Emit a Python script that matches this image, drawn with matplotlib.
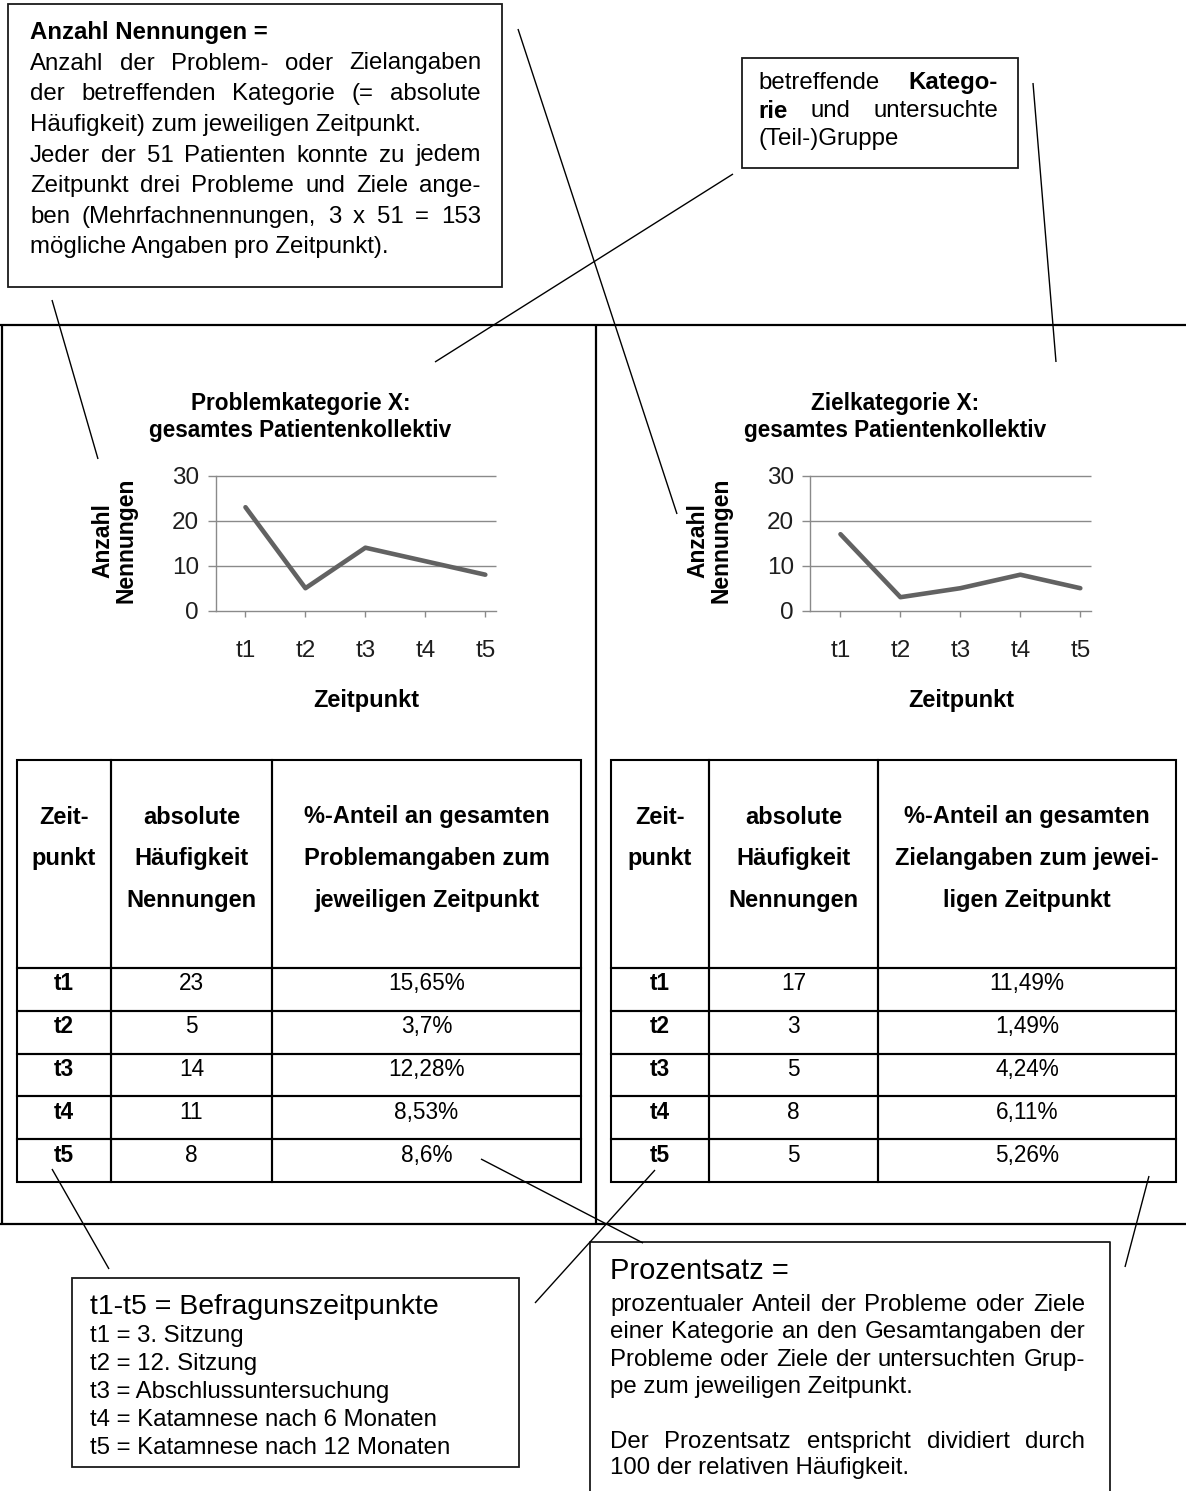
import matplotlib
matplotlib.use("Agg")
import matplotlib.pyplot as plt
from matplotlib.font_manager import FontProperties
from matplotlib.patches import Rectangle
from matplotlib.transforms import Affine2D

FONT = ['Liberation Sans', 'DejaVu Sans']
plt.rcParams['font.family'] = FONT

# ---------------- data ----------------
zeitpunkte = ["t1", "t2", "t3", "t4", "t5"]
problem_nennungen = [23, 5, 14, 11, 8]
problem_prozent = ["15,65%", "3,7%", "12,28%", "8,53%", "8,6%"]
ziel_nennungen = [17, 3, 5, 8, 5]
ziel_prozent = ["11,49%", "1,49%", "4,24%", "6,11%", "5,26%"]
y_ticks = [0, 10, 20, 30]

problem_header = ["Zeit-\npunkt\n", "absolute\nHäufigkeit\nNennungen",
                  "%-Anteil an gesamten\nProblemangaben zum\njeweiligen Zeitpunkt"]
ziel_header = ["Zeit-\npunkt\n", "absolute\nHäufigkeit\nNennungen",
               "%-Anteil an gesamten\nZielangaben zum jewei-\nligen Zeitpunkt"]

# ---------------- figure / overlay in pixel units ----------------
W, H, DPI = 1186, 1491, 100
fig = plt.figure(figsize=(W / DPI, H / DPI), dpi=DPI, facecolor='white')
renderer = fig.canvas.get_renderer()

ov = fig.add_axes([0, 0, 1, 1])
ov.set_xlim(0, W)
ov.set_ylim(H, 0)
ov.axis('off')
ov.set_zorder(10)

BODY = 17.3
GRID = '#8a8a8a'


def fp(size, weight='normal'):
    return FontProperties(family=FONT, size=size, weight=weight)


def text_width(s, size, weight='normal'):
    w, h, d = renderer.get_text_width_height_descent(s, fp(size, weight), ismath=False)
    return w


def spacing(px, size, weight='normal'):
    # linespacing factor giving a baseline-to-baseline distance of px pixels
    w, h, d = renderer.get_text_width_height_descent("lp", fp(size, weight), ismath=False)
    return (px - d) / (h - d)


def draw_line(x0, x1, y, line, size, justify):
    words = []
    bold = False
    for tok in line.split(' '):
        if tok.startswith('**'):
            bold = True
            tok = tok[2:]
        end = tok.endswith('**')
        if end:
            tok = tok[:-2]
        words.append((tok, 'bold' if bold else 'normal'))
        if end:
            bold = False
    if not justify:
        wt = words[0][1]
        ov.text(x0, y, ' '.join(w for w, _ in words), fontproperties=fp(size, wt),
                ha='left', va='center')
        return
    widths = [text_width(w, size, wt) for w, wt in words]
    gap = (x1 - x0 - sum(widths)) / (len(words) - 1)
    x = x0
    for (w, wt), wd in zip(words, widths):
        ov.text(x, y, w, fontproperties=fp(size, wt), ha='left', va='center')
        x += wd + gap


def draw_paragraph(x0, x1, ys, lines, size):
    for y, (line, just) in zip(ys, lines):
        draw_line(x0, x1, y, line, size, just)


def box(x0, y0, x1, y1):
    ov.add_patch(Rectangle((x0, y0), x1 - x0, y1 - y0, fill=False, lw=1.3, ec='#1a1a1a'))


def seg(p0, p1, lw=1.0):
    ov.plot([p0[0], p1[0]], [p0[1], p1[1]], color='black', lw=lw, solid_capstyle='butt')


# ---------------- panel frame ----------------
seg((0, 324.5), (W, 324.5), 1.6)
seg((0, 1224), (W, 1224), 1.6)
seg((2, 324.5), (2, 1224), 1.6)
seg((596, 324.5), (596, 1224), 1.6)

# ---------------- text boxes ----------------
box(8, 4, 502, 287)
draw_paragraph(30, 481, [33, 63.5, 94, 125, 155.5, 186, 217, 247.5], [
    ("**Anzahl Nennungen =**", False),
    ("Anzahl der Problem- oder Zielangaben", True),
    ("der betreffenden Kategorie (= absolute", True),
    ("Häufigkeit) zum jeweiligen Zeitpunkt.", False),
    ("Jeder der 51 Patienten konnte zu jedem", True),
    ("Zeitpunkt drei Probleme und Ziele ange-", True),
    ("ben (Mehrfachnennungen, 3 x 51 = 153", True),
    ("mögliche Angaben pro Zeitpunkt).", False),
], BODY)

box(742, 58, 1018, 168)
draw_paragraph(758, 998, [83, 111, 139], [
    ("betreffende **Katego-**", True),
    ("**rie** und untersuchte", True),
    ("(Teil-)Gruppe", False),
], BODY)

box(72, 1278, 519, 1467)
draw_line(90, 500, 1307, "t1-t5 = Befragunszeitpunkte", 20.5, False)
draw_paragraph(90, 500, [1336, 1364, 1392, 1420, 1448], [
    ("t1 = 3. Sitzung", False),
    ("t2 = 12. Sitzung", False),
    ("t3 = Abschlussuntersuchung", False),
    ("t4 = Katamnese nach 6 Monaten", False),
    ("t5 = Katamnese nach 12 Monaten", False),
], BODY)

ov.plot([590, 590, 1110, 1110], [1500, 1242, 1242, 1500], color='#1a1a1a', lw=1.3)
draw_line(610, 1085, 1271, "Prozentsatz =", 21, False)
draw_paragraph(610, 1085, [1305, 1332, 1360, 1387, 1442, 1468], [
    ("prozentualer Anteil der Probleme oder Ziele", True),
    ("einer Kategorie an den Gesamtangaben der", True),
    ("Probleme oder Ziele der untersuchten Grup-", True),
    ("pe zum jeweiligen Zeitpunkt.", False),
    ("Der Prozentsatz entspricht dividiert durch", True),
    ("100 der relativen Häufigkeit.", False),
], BODY)

# ---------------- leader lines ----------------
seg((518, 29), (677, 514))
seg((733, 174), (435, 362))
seg((1033, 83), (1056, 362))
seg((52, 300), (98, 459))
seg((52, 1169), (109, 1269))
seg((481, 1159), (643, 1243))
seg((655, 1170), (535, 1303))
seg((1149, 1176), (1125, 1267))


# ---------------- line charts ----------------
def draw_chart(left_px, title, values):
    top, bottom, width = 475.7, 610.7, 280
    ax = fig.add_axes([left_px / W, 1 - bottom / H, width / W, (bottom - top) / H])
    ax.set_facecolor('none')
    xs = list(range(len(zeitpunkte)))
    ax.hlines(y_ticks[1:], 0, 1, transform=ax.get_yaxis_transform(), colors=GRID,
              lw=1.0, clip_on=False, zorder=1)
    ax.plot(xs, values, color='#626262', lw=3.3, solid_joinstyle='round',
            solid_capstyle='round', zorder=3)
    ax.set_xlim(-0.5, 4.17)
    ax.set_ylim(0, 30)
    ax.set_yticks(y_ticks)
    ax.set_xticks(xs, zeitpunkte)
    for s in ('top', 'right'):
        ax.spines[s].set_visible(False)
    for s in ('left', 'bottom'):
        ax.spines[s].set_color(GRID)
        ax.spines[s].set_linewidth(1.0)
    ax.tick_params(axis='y', length=5.8, width=1.0, color=GRID, pad=6,
                   labelsize=17.5, labelcolor='#1e1e1e')
    ax.tick_params(axis='x', length=4.3, width=1.0, color=GRID, pad=16.5,
                   labelsize=17.5, labelcolor='#1e1e1e')
    ax.text(0.303, 1.4385, title, transform=ax.transAxes, ha='center', va='center',
            fontproperties=fp(16.3, 'bold'), linespacing=spacing(27, 16.3, 'bold'))
    ax.text(-0.362, 0.52, "Anzahl\nNennungen", transform=ax.transAxes, rotation=90,
            ha='center', va='center', multialignment='center',
            fontproperties=fp(16.5, 'bold'), linespacing=spacing(23, 16.5, 'bold'))
    ax.text(0.54, -0.665, "Zeitpunkt", transform=ax.transAxes, ha='center', va='center',
            fontproperties=fp(17, 'bold'))


draw_chart(215.5, "Problemkategorie X:\ngesamtes Patientenkollektiv", problem_nennungen)
draw_chart(810.5, "Zielkategorie X:\ngesamtes Patientenkollektiv", ziel_nennungen)

# ---------------- tables ----------------
HEADER_PX = 208
TABLE_FS = 16.3
HEADER_FS = 17


def draw_table(x_edges, y0, y1, header, nennungen, prozent):
    x0, x1 = x_edges[0], x_edges[-1]
    ax = fig.add_axes([x0 / W, 1 - y1 / H, (x1 - x0) / W, (y1 - y0) / H])
    ax.axis('off')
    rows = [[z, str(n), p] for z, n, p in zip(zeitpunkte, nennungen, prozent)]
    col_w = [b - a for a, b in zip(x_edges[:-1], x_edges[1:])]
    tbl = ax.table(cellText=rows, colLabels=header, colWidths=col_w,
                   cellLoc='center', bbox=[0, 0, 1, 1])
    tbl.auto_set_font_size(False)
    body_h = (y1 - y0 - HEADER_PX) / len(rows)
    for (r, c), cell in tbl.get_celld().items():
        cell.set_linewidth(1.5)
        cell.set_edgecolor('black')
        cell.set_facecolor('none')
        txt = cell.get_text()
        txt.set_transform(Affine2D().translate(0, 5.5))
        if r == 0:
            cell.set_height(HEADER_PX)
            txt.set_fontsize(HEADER_FS)
            txt.set_fontweight('bold')
            txt.set_linespacing(spacing(41.5, HEADER_FS, 'bold'))
        else:
            cell.set_height(body_h)
            txt.set_fontsize(TABLE_FS)
            if c == 0:
                txt.set_fontweight('bold')


draw_table([17, 111, 272, 581], 760, 1182, problem_header, problem_nennungen, problem_prozent)
draw_table([611, 709, 878, 1176], 760, 1182, ziel_header, ziel_nennungen, ziel_prozent)

fig.savefig('out.png', dpi=DPI, facecolor='white')
